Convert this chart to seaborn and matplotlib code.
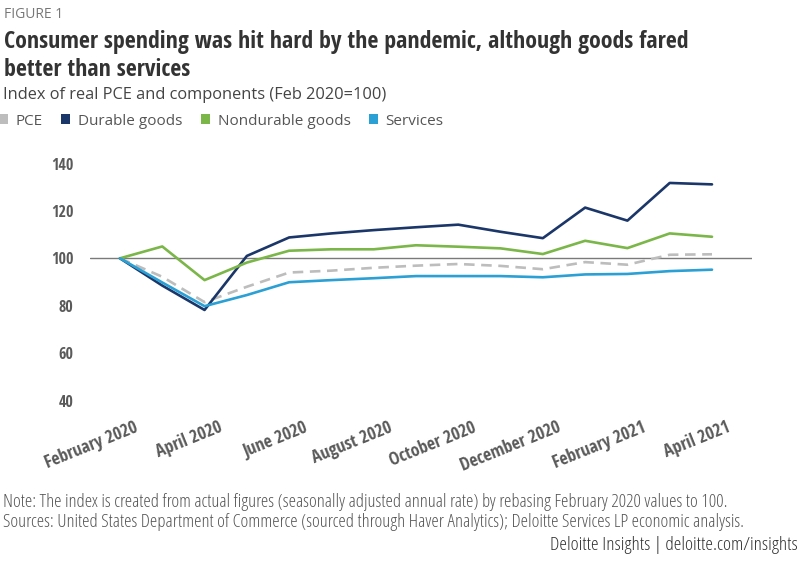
import matplotlib
matplotlib.use("Agg")
import matplotlib.pyplot as plt
from matplotlib import font_manager as fm
from matplotlib.patches import Patch
import matplotlib.transforms as mtransforms
import seaborn as sns
import pandas as pd
import numpy as np

# ---------------- data ----------------
months = ["Feb 2020", "Mar 2020", "Apr 2020", "May 2020", "Jun 2020", "Jul 2020",
          "Aug 2020", "Sep 2020", "Oct 2020", "Nov 2020", "Dec 2020", "Jan 2021",
          "Feb 2021", "Mar 2021", "Apr 2021"]
pce = [100, 92.2, 81.5, 88.0, 94.0, 94.8, 96.0, 96.9, 97.6, 96.8, 95.4, 98.4, 97.3, 101.5, 101.7]
durable = [100, 88.5, 78.2, 101.0, 108.8, 110.5, 111.9, 113.1, 114.2, 111.2, 108.5, 121.4, 115.9, 131.8, 131.2]
nondurable = [100, 105.0, 90.8, 98.2, 103.2, 103.8, 103.8, 105.5, 104.9, 104.2, 101.8, 107.4, 104.3, 110.5, 109.1]
services = [100, 89.8, 79.8, 84.5, 89.9, 90.8, 91.6, 92.5, 92.5, 92.5, 92.0, 93.2, 93.4, 94.6, 95.2]
series_names = ["PCE", "Durable goods", "Nondurable goods", "Services"]
tick_labels = ["February 2020", "April 2020", "June 2020", "August 2020",
               "October 2020", "December 2020", "February 2021", "April 2021"]
yticks = [40, 60, 80, 100, 120, 140]

colors = {"PCE": "#bdbdbd", "Durable goods": "#1b3668",
          "Nondurable goods": "#7ab648", "Services": "#2ba0d4"}

# ---------------- fonts ----------------
def find_pref(patterns):
    files = [(f.fname or "") for f in fm.fontManager.ttflist]
    for pat in patterns:
        for fn in files:
            base = fn.lower().replace("_", "").replace(" ", "").split("/")[-1]
            if pat in base:
                return fm.FontProperties(fname=fn)
    return None

def find_font(words, bold):
    for f in fm.fontManager.ttflist:
        name = (f.fname or "").lower().split("/")[-1]
        if any(w in name for w in words):
            isbold = "bold" in name
            if bold == isbold and "italic" not in name and "oblique" not in name:
                return fm.FontProperties(fname=f.fname)
    return None

cond_bold = find_pref(["opensanscondensed-bold", "opensans-condbold", "opensans-condensedbold",
                       "liberationsansnarrow-bold.", "notosans-condensedbold",
                       "dejavusanscondensed-bold."]) or find_font(["condensed", "narrow"], True)
cond_reg = find_pref(["opensanscondensed-light", "opensans-condlight", "opensans-condensed.",
                      "opensans-condensedregular", "liberationsansnarrow-regular",
                      "notosans-condensed.", "notosans-condensedregular",
                      "dejavusanscondensed."]) or find_font(["condensed", "narrow"], False)
if cond_bold is None:
    cond_bold = fm.FontProperties(family="Roboto", weight="bold")
if cond_reg is None:
    cond_reg = fm.FontProperties(family="Roboto")

def fp(base, size):
    p = base.copy()
    p.set_size(size)
    return p

sns.set_theme(style="white")
plt.rcParams['font.family'] = ['Open Sans', 'DejaVu Sans']

# ---------------- figure ----------------
fig = plt.figure(figsize=(8, 5.66), dpi=100)
ax = fig.add_axes([0.1125, 0.2924, 0.8275, 0.4187])

df = pd.DataFrame({"x": np.arange(len(months)), "PCE": pce, "Durable goods": durable,
                   "Nondurable goods": nondurable, "Services": services})
long = df.melt(id_vars="x", var_name="series", value_name="value")

ax.axhline(100, color="#7a7a7a", lw=1.0, zorder=1)
for name in series_names:
    sub = long[long["series"] == name]
    sns.lineplot(data=sub, x="x", y="value", ax=ax, color=colors[name], lw=1.9,
                 legend=False, zorder=3)
    if name == "PCE":
        ax.lines[-1].set_linestyle((0, (4, 2.5)))

ax.set_xlim(-0.709, 14.946)
ax.set_ylim(40, 140)
ax.set_yticks(yticks)
ax.set_yticklabels([str(v) for v in yticks])
ax.set_xticks(np.arange(0, 15, 2))
ax.set_xticklabels(tick_labels)
ax.set_xlabel("")
ax.set_ylabel("")
for s in ax.spines.values():
    s.set_visible(False)
ax.tick_params(axis="y", length=0, pad=12)
ax.tick_params(axis="x", length=0, pad=13)
for t in ax.get_yticklabels():
    t.set_fontproperties(fp(cond_bold, 11.5))
    t.set_color("#5a5a5a")
offset = mtransforms.ScaledTranslation(14 / 100, 0, fig.dpi_scale_trans)
for t in ax.get_xticklabels():
    t.set_fontproperties(fp(cond_bold, 12.8))
    t.set_color("#5a5a5a")
    t.set_rotation(22)
    t.set_ha("right")
    t.set_va("top")
    t.set_rotation_mode("anchor")
    t.set_transform(t.get_transform() + offset)
ax.grid(False)

# ---------------- text ----------------
fig.text(0.005, 0.975, "FIGURE 1", fontsize=10, color="#777777", va="center", ha="left")
t1 = fig.text(0.005, 0.926, "Consumer spending was hit hard by the pandemic, although goods fared",
              fontproperties=fp(cond_bold, 17), color="#333333", va="center", ha="left")
t2 = fig.text(0.005, 0.877, "better than services",
              fontproperties=fp(cond_bold, 17), color="#333333", va="center", ha="left")
fig.text(0.004, 0.832, "Index of real PCE and components (Feb 2020=100)",
         fontsize=11.8, color="#444444", va="center", ha="left")

handles = [Patch(facecolor=colors[n], edgecolor="none") for n in series_names]
leg = fig.legend(handles, series_names, loc="center left", bbox_to_anchor=(-0.0185, 0.786),
                 ncol=4, frameon=False, handlelength=0.6, handleheight=0.6,
                 handletextpad=0.5, columnspacing=1.2, fontsize=11)
for t in leg.get_texts():
    t.set_color("#555555")

n1 = fig.text(0.004, 0.113, "Note: The index is created from actual figures (seasonally adjusted annual rate) "
              "by rebasing February 2020 values to 100.",
              fontproperties=fp(cond_reg, 10), color="#555555", va="center", ha="left")
n2 = fig.text(0.004, 0.077, "Sources: United States Department of Commerce (sourced through Haver Analytics); "
              "Deloitte Services LP economic analysis.",
              fontproperties=fp(cond_reg, 10), color="#555555", va="center", ha="left")
n3 = fig.text(0.997, 0.037, "Deloitte Insights | deloitte.com/insights",
              fontproperties=fp(cond_reg, 10.5), color="#333333", va="center", ha="right")

# fit text widths to the reference layout (pixel widths)
fig.canvas.draw()
renderer = fig.canvas.get_renderer()
def fit(txt, target_px, max_size=None):
    w = txt.get_window_extent(renderer).width
    size = txt.get_fontsize() * target_px / w
    if max_size is not None:
        size = min(size, max_size)
    txt.set_fontsize(size)
    return size

s = fit(t1, 685, max_size=18)
t2.set_fontsize(s)
fit(n1, 725, max_size=14)
fit(n2, 744, max_size=14)
fit(n3, 246, max_size=14)

fig.savefig("out.png", dpi=100)
